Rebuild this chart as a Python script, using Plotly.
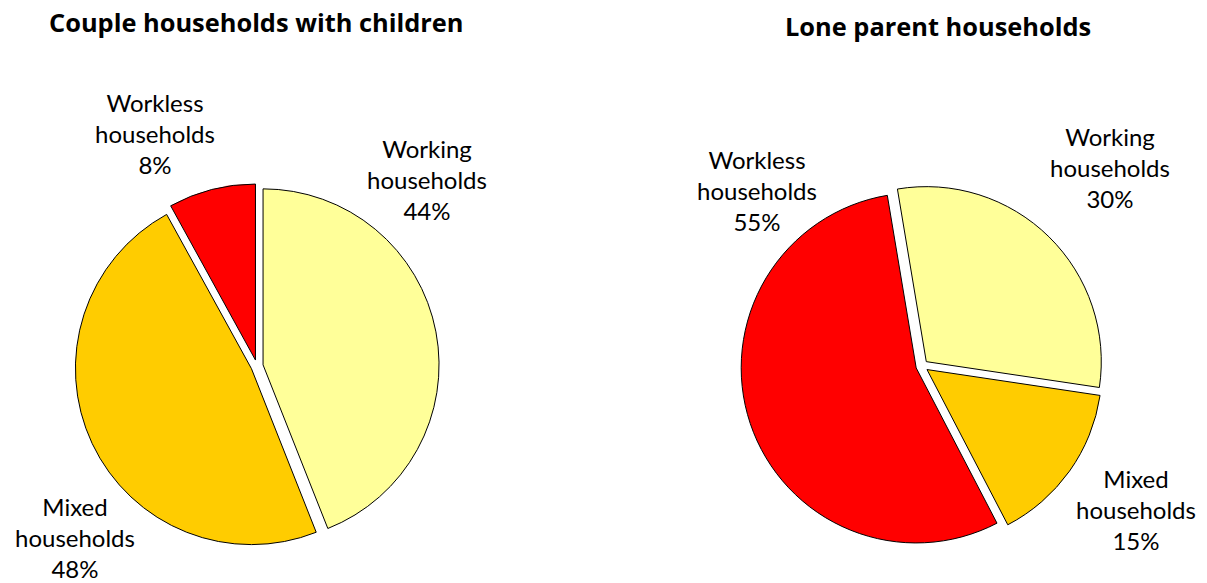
import plotly.graph_objects as go

# Hogares con hijos: parejas vs. monoparentales
categories = ["Working households", "Mixed households", "Workless households"]
couple_values = [44, 48, 8]
lone_values = [30, 15, 55]
titles = ["Couple households with children", "Lone parent households"]
colors = ["#FFFF99", "#FFCC00", "#FF0000"]

W, H = 1207, 583
FONT = "Lato"


def px_domain(cx, cy, r, pull):
    # dominio en fracciones del papel a partir de centro y radio en píxeles
    half = r * (1 + pull)
    ycen = H - cy
    return dict(x=[(cx - half) / W, (cx + half) / W],
                y=[(ycen - half) / H, (ycen + half) / H])


pull = 0.035
fig = go.Figure()
fig.add_trace(go.Pie(
    labels=categories, values=couple_values, sort=False, direction="clockwise",
    rotation=0, pull=[pull] * 3, textinfo="none", hoverinfo="label+percent",
    marker=dict(colors=colors, line=dict(color="black", width=1)),
    domain=px_domain(257, 366, 176, pull), showlegend=False,
))
fig.add_trace(go.Pie(
    labels=categories, values=lone_values, sort=False, direction="clockwise",
    rotation=-9.5, pull=[pull] * 3, textinfo="none", hoverinfo="label+percent",
    marker=dict(colors=colors, line=dict(color="black", width=1)),
    domain=px_domain(922, 366, 175, pull), showlegend=False,
))

# posiciones de las etiquetas (px) para cada gráfico, en el orden de categories
label_pos = [
    [(427, 179), (75, 537), (155, 133)],
    [(1110, 167), (1136, 509), (757, 190)],
]
annotations = []
for vals, pos in zip([couple_values, lone_values], label_pos):
    for cat, v, (x, y) in zip(categories, vals, pos):
        name = cat.replace(" ", "<br>")
        annotations.append(dict(
            x=x / W, y=1 - y / H, xref="paper", yref="paper",
            text=f"{name}<br>{v}%", showarrow=False,
            xanchor="center", yanchor="middle",
            font=dict(family=FONT, size=24, color="black"),
        ))
for t, (x, y) in zip(titles, [(256, 22), (938, 26)]):
    annotations.append(dict(
        x=x / W, y=1 - y / H, xref="paper", yref="paper",
        text=f"<b>{t}</b>", showarrow=False,
        xanchor="center", yanchor="middle",
        font=dict(family="Open Sans", size=25.4, color="black"),
    ))

fig.update_layout(
    width=W, height=H, margin=dict(l=0, r=0, t=0, b=0),
    paper_bgcolor="white", plot_bgcolor="white",
    annotations=annotations,
)

# sin margen del body para que la figura ocupe la ventana completa
fig.write_html("out.html", config={"displayModeBar": False},
               post_script="document.body.style.margin='0';")
